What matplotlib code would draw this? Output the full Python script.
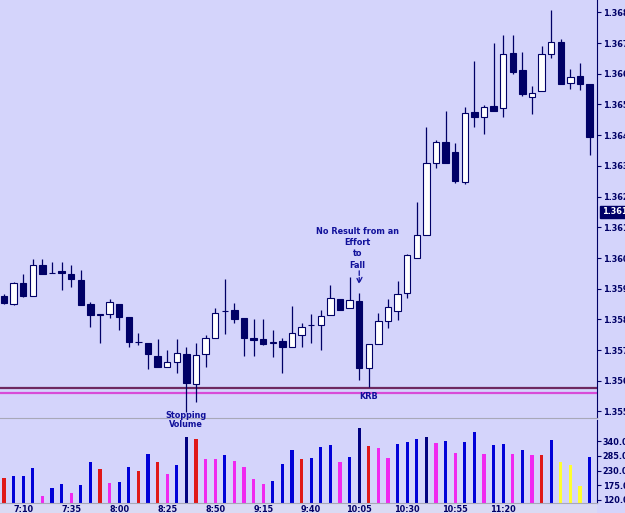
import matplotlib
matplotlib.use("Agg")
import matplotlib.pyplot as plt
import matplotlib.transforms as mtransforms
from matplotlib import font_manager as fm
import numpy as np

# 5 minute bars, 7:00 .. 12:05
opens = [1.35876, 1.35850, 1.35918, 1.35876, 1.35977, 1.35951, 1.35957, 1.35948, 1.35928, 1.35850,
         1.35814, 1.35817, 1.35850, 1.35808, 1.35726, 1.35723, 1.35680, 1.35645, 1.35661, 1.35687,
         1.35589, 1.35687, 1.35739, 1.35827, 1.35830, 1.35804, 1.35739, 1.35736, 1.35723, 1.35729,
         1.35710, 1.35749, 1.35781, 1.35781, 1.35814, 1.35866, 1.35837, 1.35859, 1.35641, 1.35720,
         1.35795, 1.35827, 1.35886, 1.36000, 1.36075, 1.36309, 1.36377, 1.36345, 1.36247, 1.36475,
         1.36459, 1.36495, 1.36488, 1.36667, 1.36612, 1.36524, 1.36544, 1.36664, 1.36703, 1.36570,
         1.36592, 1.36566]
highs = [1.35882, 1.35922, 1.35948, 1.35996, 1.35996, 1.35987, 1.35987, 1.35977, 1.35961, 1.35856,
         1.35817, 1.35866, 1.35850, 1.35808, 1.35755, 1.35723, 1.35736, 1.35700, 1.35736, 1.35710,
         1.35723, 1.35749, 1.35837, 1.35931, 1.35853, 1.35804, 1.35801, 1.35801, 1.35765, 1.35739,
         1.35843, 1.35788, 1.35817, 1.35830, 1.35912, 1.35866, 1.35938, 1.35886, 1.35720, 1.35821,
         1.35866, 1.35925, 1.36013, 1.36182, 1.36426, 1.36384, 1.36478, 1.36374, 1.36491, 1.36641,
         1.36498, 1.36700, 1.36726, 1.36726, 1.36671, 1.36560, 1.36690, 1.36807, 1.36713, 1.36615,
         1.36635, 1.36566]
lows = [1.35850, 1.35847, 1.35873, 1.35876, 1.35948, 1.35951, 1.35896, 1.35905, 1.35847, 1.35775,
        1.35723, 1.35804, 1.35765, 1.35710, 1.35716, 1.35638, 1.35645, 1.35645, 1.35625, 1.35498,
        1.35531, 1.35645, 1.35739, 1.35752, 1.35788, 1.35680, 1.35680, 1.35716, 1.35677, 1.35625,
        1.35710, 1.35710, 1.35723, 1.35700, 1.35814, 1.35830, 1.35837, 1.35602, 1.35580, 1.35720,
        1.35772, 1.35798, 1.35870, 1.36000, 1.36075, 1.36293, 1.36309, 1.36244, 1.36241, 1.36426,
        1.36404, 1.36478, 1.36459, 1.36599, 1.36527, 1.36469, 1.36544, 1.36651, 1.36566, 1.36550,
        1.36547, 1.36335]
closes = [1.35853, 1.35918, 1.35876, 1.35977, 1.35948, 1.35951, 1.35951, 1.35931, 1.35847, 1.35814,
          1.35817, 1.35856, 1.35808, 1.35726, 1.35726, 1.35687, 1.35645, 1.35661, 1.35690, 1.35593,
          1.35684, 1.35739, 1.35821, 1.35827, 1.35801, 1.35739, 1.35733, 1.35720, 1.35726, 1.35710,
          1.35755, 1.35775, 1.35781, 1.35811, 1.35869, 1.35830, 1.35863, 1.35641, 1.35720, 1.35795,
          1.35840, 1.35882, 1.36010, 1.36075, 1.36309, 1.36377, 1.36309, 1.36250, 1.36472, 1.36459,
          1.36491, 1.36478, 1.36664, 1.36605, 1.36534, 1.36537, 1.36664, 1.36703, 1.36566, 1.36589,
          1.36566, 1.36394]

volumes = [202, 210, 210, 239, 135, 165, 180, 146, 176, 262,
           236, 183, 187, 243, 228, 292, 262, 217, 251, 355,
           348, 273, 273, 288, 265, 243, 198, 180, 191, 254,
           307, 273, 277, 318, 325, 262, 280, 389, 322, 314,
           277, 329, 336, 348, 355, 333, 340, 295, 336, 374,
           292, 325, 329, 292, 307, 288, 288, 344, 262, 251,
           172, 280]
vol_codes = "rbbbmbbmbbrmbbrbrmbnrmmbmmmmbbbrbbbmbnrmmbbbnmbmbbmbbmbmrbyyyb"

time_ticks = [2, 7, 12, 17, 22, 27, 32, 37, 42, 47, 52]
time_labels = ["7:10", "7:35", "8:00", "8:25", "8:50", "9:15", "9:40", "10:05", "10:30", "10:55", "11:20"]
price_ticks = [1.3550, 1.3560, 1.3570, 1.3580, 1.3590, 1.3600, 1.3610, 1.3620,
               1.3630, 1.3640, 1.3650, 1.3660, 1.3670, 1.3680]
vol_ticks = [120, 175, 230, 285, 340]
last_price = 1.3615
krb_upper = 1.35575
krb_lower = 1.35560

bg = "#D4D4FB"
navy = "#000066"
txt = "#10109A"
vol_colors = {"r": "#E01818", "b": "#0000D8", "n": "#000080", "m": "#F028F0", "y": "#FFFF30"}

# pick a narrow face if the system has one, else a small plain one
fp = fm.FontProperties(family="Liberation Sans", weight="bold", size=5.3)
for f in fm.fontManager.ttflist:
    if "Narrow" in f.name or "Condensed" in f.name:
        fp = fm.FontProperties(family=f.name, weight="bold", size=6.8)
        break
    if f.stretch in ("condensed", "semi-condensed", "extra-condensed"):
        fp = fm.FontProperties(family=f.name, stretch=f.stretch, weight="bold", size=6.5)
        break

fig = plt.figure(figsize=(6.25, 5.13), dpi=100)
fig.patch.set_facecolor(bg)
ax = fig.add_axes([0, 95 / 513, 597 / 625, 418 / 513])
axv = fig.add_axes([0, 10 / 513, 597 / 625, 83 / 513])
fig.patches.append(plt.Rectangle((0, 0), 597 / 625, 10 / 513, transform=fig.transFigure,
                                 facecolor="#DADAF4", edgecolor="none", zorder=-1))

n = len(opens)
x = np.arange(n)
o = np.array(opens); h = np.array(highs); l = np.array(lows); c = np.array(closes)

# candles
ax.vlines(x, l, h, color=navy, lw=0.9, zorder=2)
dark = c < o
body_lo = np.minimum(o, c)
body_h = np.maximum(np.abs(c - o), 0.000012)
ax.bar(x, body_h, bottom=body_lo, width=0.68,
       color=np.where(dark, navy, "white"), edgecolor=navy, linewidth=0.8, zorder=3)

ax.axhline(krb_upper, color="#6E2860", lw=1.6, zorder=1)
ax.axhline(krb_lower, color="#D84CD8", lw=1.6, zorder=1)

ax.set_xlim(-0.42, 61.77)
ax.set_ylim(1.354786, 1.36840)
ax.set_facecolor(bg)
ax.set_xticks([])
ax.yaxis.tick_right()
ax.set_yticks(price_ticks)
ax.set_yticklabels(["%.4f[0]" % p for p in price_ticks], fontproperties=fp)
ax.tick_params(axis='y', direction='out', length=3, color=navy, labelcolor=navy, pad=1)
for s in ['left', 'top']:
    ax.spines[s].set_visible(False)
ax.spines['right'].set_color(navy)
ax.spines['bottom'].set_color("#A8A8B8")

trans = mtransforms.blended_transform_factory(ax.transAxes, ax.transData)
ax.text(1.008, last_price, "%.4f[2]" % last_price, transform=trans, color="white",
        fontproperties=fp, va='center', ha='left',
        bbox=dict(boxstyle='square,pad=0.2', facecolor=navy, edgecolor=navy))

# annotations
ax.text(36.8, 1.36100, "No Result from an\nEffort\nto\nFall", ha='center', va='top',
        color=txt, fontproperties=fp, linespacing=1.3)
ax.annotate("", xy=(37, 1.35905), xytext=(37, 1.35967),
            arrowprops=dict(arrowstyle='->', linestyle='--', color=txt, lw=0.9))
ax.text(38, 1.35547, "KRB", ha='center', va='center', color=txt, fontproperties=fp)
ax.text(18.9, 1.35488, "Stopping", ha='center', va='center', color=txt, fontproperties=fp)

# volume
axv.bar(x, np.array(volumes) - 100, bottom=100, width=0.32,
        color=[vol_colors[k] for k in vol_codes], zorder=2)
axv.set_xlim(-0.42, 61.77)
axv.set_ylim(108.8, 418.4)
axv.set_facecolor(bg)
axv.text(18.9, 403, "Volume", ha='center', va='center', color=txt, fontproperties=fp)
axv.yaxis.tick_right()
axv.set_yticks(vol_ticks)
axv.set_yticklabels(["%.4f" % v for v in vol_ticks], fontproperties=fp)
axv.tick_params(axis='y', direction='out', length=3, color=navy, labelcolor=navy, pad=1)
axv.set_xticks(time_ticks)
axv.set_xticklabels(time_labels, fontproperties=fp)
axv.tick_params(axis='x', length=0, labelcolor=navy, pad=1.5)
for s in ['left', 'top']:
    axv.spines[s].set_visible(False)
axv.spines['right'].set_color(navy)
axv.spines['bottom'].set_color("#A8A8B8")

fig.savefig("out.png", dpi=100, facecolor=bg)
